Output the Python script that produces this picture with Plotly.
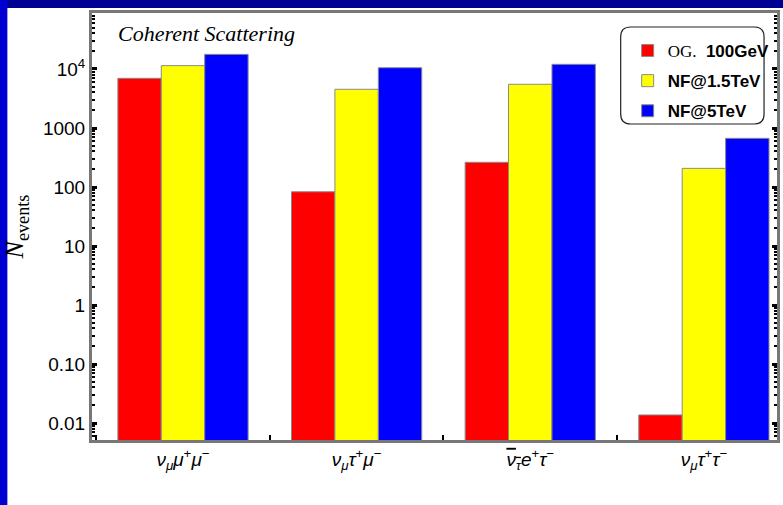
import plotly.graph_objects as go

categories = ["vmumu", "vmutaumu", "vtauetau", "vmutautau"]
cat_labels = [
    "<i>ν</i><sub><i>μ</i></sub><i>μ</i><sup>+</sup><i>μ</i><sup>−</sup>",
    "<i>ν</i><sub><i>μ</i></sub><i>τ</i><sup>+</sup><i>μ</i><sup>−</sup>",
    "<span style='text-decoration:overline'><i>ν</i><sub><i>τ</i></sub></span><i>e</i><sup>+</sup><i>τ</i><sup>−</sup>",
    "<i>ν</i><sub><i>μ</i></sub><i>τ</i><sup>+</sup><i>τ</i><sup>−</sup>",
]
og_100 = [6950, 83, 262, 0.0137]
nf_15 = [11400, 4530, 5510, 207]
nf_5 = [17700, 10500, 12000, 668]
series_names = [
    "<span style='font-family:Liberation Serif;font-weight:normal'>OG.</span>  <b>100GeV</b>",
    "<b>NF@1.5TeV</b>",
    "<b>NF@5TeV</b>",
]
series_colors = ["#ff0000", "#ffff00", "#0000ff"]
ytick_vals = [0.01, 0.1, 1, 10, 100, 1000, 10000]
ytick_text = ["0.01", "0.10", "1", "10", "100", "1000", "10<sup>4</sup>"]

fig = go.Figure()
for i, (vals, name, col) in enumerate(zip([og_100, nf_15, nf_5], series_names, series_colors)):
    fig.add_trace(go.Bar(
        x=categories, y=vals, name=name, legendgroup=f"g{i}",
        marker=dict(color=col, line=dict(color="#8a8a8a", width=1)),
    ))

W, H = 783, 505
L, R, T, B = 92, 3, 13, 65
pw, ph = W - L - R, H - T - B

def px(x):
    return (x - L) / pw

def py(y):
    return (H - B - y) / ph

shapes = []
# white panel over the blue page background
shapes.append(dict(type="rect", xref="paper", yref="paper", x0=px(7), x1=px(W + 5),
                   y0=py(H + 5), y1=py(8), fillcolor="white",
                   line=dict(width=0), layer="below"))
# top dark strip
shapes.append(dict(type="rect", xref="paper", yref="paper", x0=px(7), x1=px(W + 5),
                   y0=py(8), y1=py(-5), fillcolor="#000094", line=dict(width=0), layer="below"))
# rounded legend frame
x0, x1, y0, y1, rr = px(623), px(767), py(124), py(27), 10
rx, ry = rr / pw, rr / ph
path = (f"M {x0+rx},{y1} L {x1-rx},{y1} Q {x1},{y1} {x1},{y1-ry} "
        f"L {x1},{y0+ry} Q {x1},{y0} {x1-rx},{y0} L {x0+rx},{y0} "
        f"Q {x0},{y0} {x0},{y0+ry} L {x0},{y1-ry} Q {x0},{y1} {x0+rx},{y1} Z")
shapes.append(dict(type="path", xref="paper", yref="paper", path=path,
                   line=dict(color="#222222", width=1.2), fillcolor="white", layer="below"))

fig.update_layout(
    width=W, height=H,
    margin=dict(l=L, r=R, t=T, b=B, pad=0),
    paper_bgcolor="#0000d2", plot_bgcolor="rgba(0,0,0,0)",
    barmode="group", bargap=0.25, bargroupgap=0,
    showlegend=True,
    legend=dict(x=px(630), y=py(33), xanchor="left", yanchor="top",
                bgcolor="rgba(0,0,0,0)", borderwidth=0, tracegroupgap=5,
                font=dict(family="Liberation Sans", size=17, color="black"),
                itemwidth=30),
    shapes=shapes,
    xaxis=dict(
        tickmode="array", tickvals=categories, ticktext=cat_labels,
        range=[-0.524, 3.421],
        tickfont=dict(family="Liberation Sans", size=19, color="black"),
        showline=True, linecolor="#777777", linewidth=3, mirror=True,
        ticks="inside", tickson="boundaries", ticklen=5, tickwidth=2, tickcolor="black",
        showgrid=False, zeroline=False,
    ),
    yaxis=dict(
        type="log", range=[-2.288, 4.949],
        tickmode="array", tickvals=ytick_vals, ticktext=ytick_text,
        tickfont=dict(family="Liberation Sans", size=19, color="black"),
        showline=True, linecolor="#777777", linewidth=3, mirror="allticks",
        ticks="inside", ticklen=5, tickwidth=3, tickcolor="black",
        minor=dict(ticks="inside", ticklen=3, tickwidth=2, tickcolor="black", dtick="D1", showgrid=False),
        showgrid=False, zeroline=False,
        title=dict(text="<i>N</i><sub>events</sub>",
                   font=dict(family="Liberation Serif", size=26, color="black"), standoff=12),
    ),
    annotations=[dict(
        text="<i>Coherent Scattering</i>", xref="paper", yref="paper",
        x=px(116), y=py(33), xanchor="left", yanchor="middle", showarrow=False,
        font=dict(family="Liberation Serif", size=22, color="black"),
    )],
)

fig.write_html("out.html")
